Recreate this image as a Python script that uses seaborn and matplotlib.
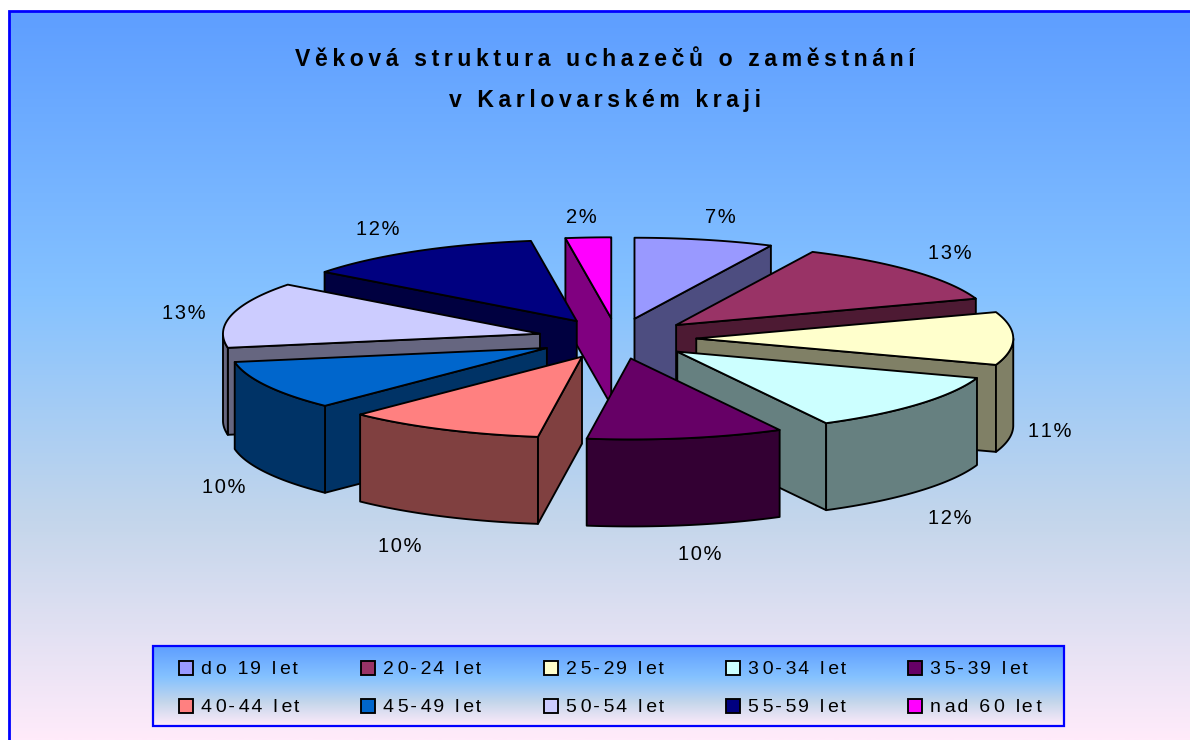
import numpy as np
import matplotlib
matplotlib.use("Agg")
import matplotlib.pyplot as plt
import seaborn as sns
from matplotlib.colors import LinearSegmentedColormap
from matplotlib.patches import Polygon, Rectangle

# Data
categories = ["do 19 let", "20-24 let", "25-29 let", "30-34 let", "35-39 let",
              "40-44 let", "45-49 let", "50-54 let", "55-59 let", "nad 60 let"]
shares = [7.08, 12.64, 10.56, 11.94, 10.0, 10.12, 9.88, 13.14, 12.33, 2.31]
slice_colors = ["#9999FF", "#993366", "#FFFFCC", "#CCFFFF", "#660066",
                "#FF8080", "#0066CC", "#CCCCFF", "#000080", "#FF00FF"]
title_lines = ["Věková struktura uchazečů o zaměstnání", "v Karlovarském kraji"]

# Gradient of the chart area
grad_stops = [(0.0, "#5E9EFF"), (0.39, "#85C2FF"), (0.70, "#C4D6EB"), (1.0, "#FFEBFA")]

# Layout in pixels
cx, cy = 617, 338.5
rx, ry = 317, 81
explode = 0.25
depth = 87
label_nudge = [(16, -22), (37, -18), (37, 93), (31, 114), (14, 116),
               (-42, 117), (-43, 102), (-48, -1), (-38, -22), (-7, -20)]
BLUE = "#0000FF"
LW = 1.35

sns.set_theme(style="white")
plt.rcParams['font.family'] = ['Liberation Sans', 'DejaVu Sans']

fig = plt.figure(figsize=(11.9, 7.4), dpi=100, facecolor="white")
ax = fig.add_axes([0, 0, 1, 1])
ax.set_xlim(0, 1190)
ax.set_ylim(740, 0)
ax.axis("off")

grad = LinearSegmentedColormap.from_list("chart_bg", grad_stops)
ramp = np.linspace(0, 1, 512)[:, None]


def spaced(text, seps=("\u200a",)):
    # letter spacing through thin space characters, cycling over seps
    out = text[0]
    for n, ch in enumerate(text[1:]):
        out += seps[n % len(seps)] + ch
    return out


# Background and the frame that is cut off on the right and at the bottom
ax.imshow(ramp, cmap=grad, aspect="auto", extent=(9, 1190, 740, 11), zorder=0)
ax.plot([9, 9, 1190], [740, 11, 11], color=BLUE, lw=2.0, solid_joinstyle="miter", zorder=1)

# Title
for line, y in zip(title_lines, [59, 100]):
    ax.text(605, y, spaced(line, ("\u2009",)), ha="center", va="center", fontsize=16.6,
            fontweight="bold", color="black", zorder=50)

# Pie, clockwise from the top
palette = sns.color_palette(slice_colors)
edges = np.radians(np.cumsum([0] + shares) * 3.6)
mids = (edges[:-1] + edges[1:]) / 2


def project(t, radius, mid, drop=0.0):
    """Disc angle to picture position, for one exploded slice"""
    x = cx + rx * (explode * np.sin(mid) + radius * np.sin(t))
    y = cy - ry * (explode * np.cos(mid) + radius * np.cos(t)) + drop
    return np.column_stack([x, y])


def add_face(points, color, z):
    ax.add_patch(Polygon(points, closed=True, facecolor=color, edgecolor="black",
                         lw=LW, joinstyle="round", zorder=z))


# Back slices first so the front ones cover them
order = np.argsort(-np.cos(mids))
for rank, i in enumerate(order):
    t0, t1, mid = edges[i], edges[i + 1], mids[i]
    color = np.array(palette[i])
    side = color * 0.5
    z = 10 + rank

    # Cut walls, only those that face the viewer
    for t, normal in [(t0, t0 - np.pi / 2), (t1, t1 + np.pi / 2)]:
        if np.cos(normal) < 0:
            top = project(np.array([0.0, t]), np.array([0.0, 1.0]), mid)
            low = project(np.array([t, 0.0]), np.array([1.0, 0.0]), mid, depth)
            add_face(np.vstack([top, low]), side, z)

    # Outer wall on the front half of the rim
    a0, a1 = max(t0, np.pi / 2), min(t1, 3 * np.pi / 2)
    if a1 > a0:
        arc = np.linspace(a0, a1, 40)
        add_face(np.vstack([project(arc, 1.0, mid), project(arc[::-1], 1.0, mid, depth)]), side, z)

    # Top face
    arc = np.linspace(t0, t1, 60)
    apex = project(np.array([0.0]), 0.0, mid)
    add_face(np.vstack([apex, project(arc, 1.0, mid)]), color, z)

    # Percent label next to the rim
    rim_x = cx + rx * (1 + explode) * np.sin(mid)
    rim_y = cy - ry * (1 + explode) * np.cos(mid)
    nx, ny = label_nudge[i]
    ax.text(rim_x + nx, rim_y + ny, spaced(f"{round(shares[i])}%"), ha="center", va="center",
            fontsize=14.5, color="black", zorder=50)

# Legend
leg_x0, leg_x1, leg_y0, leg_y1 = 153, 1064, 646, 726
ax.imshow(ramp, cmap=grad, aspect="auto", extent=(leg_x0, leg_x1, leg_y1, leg_y0), zorder=60)
ax.add_patch(Rectangle((leg_x0, leg_y0), leg_x1 - leg_x0, leg_y1 - leg_y0, fill=False,
                       edgecolor=BLUE, lw=1.6, joinstyle="miter", zorder=61))
ax.set_xlim(0, 1190)
ax.set_ylim(740, 0)
for i, name in enumerate(categories):
    col, row = i % 5, i // 5
    x = 179 + col * 182.3
    y = 668 + row * 38
    ax.add_patch(Rectangle((x, y - 7.5), 14, 14, facecolor=palette[i], edgecolor="black",
                           lw=LW, zorder=62))
    ax.text(x + 22, y + 1, spaced(name, ("\u2009", "\u200a")), ha="left", va="center", fontsize=14,
            color="black", zorder=62)

fig.savefig("out.png", dpi=100, facecolor="white")
plt.close(fig)
